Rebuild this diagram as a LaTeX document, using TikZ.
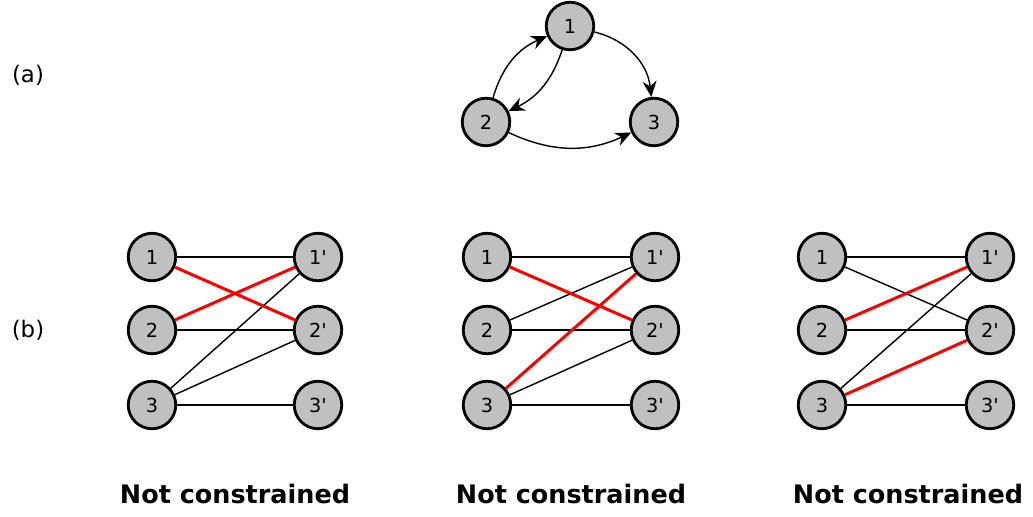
\documentclass[tikz,border=0pt]{standalone}
\usepackage{fontspec}
\setmainfont{DejaVu Sans}
\usetikzlibrary{arrows.meta}

\definecolor{vertexfill}{RGB}{192,192,192}

\tikzset{
  vertex/.style={circle, draw, line width=1.6pt, fill=vertexfill,
    minimum size=0.95cm, inner sep=0pt, font=\fontsize{11}{13}\selectfont},
  edge/.style={line width=0.8pt},
  matched/.style={red, line width=1.7pt},
  arc/.style={-{Stealth[length=9pt,width=8pt]}, line width=0.8pt},
  caption/.style={font=\fontsize{14.5}{17}\selectfont\bfseries},
  partlabel/.style={font=\fontsize{13}{15}\selectfont}
}

\begin{document}
\begin{tikzpicture}
  \useasboundingbox (0,0) rectangle (20.66,10.32);

  % Part labels
  \node[partlabel] (lbla) at (0.56,8.82) {(a)};
  \node[partlabel] (lblb) at (0.56,3.72) {(b)};

  % Directed graph
  \node[vertex] (a1) at (11.40,9.80) {1};
  \node[vertex] (a2) at (9.72,7.88) {2};
  \node[vertex] (a3) at (13.08,7.88) {3};

  \draw[arc] (a1) to[bend left=35] (a3);
  \draw[arc] (a2) to[bend right=25] (a3);
  \draw[arc] (a2) to[bend left=25] (a1);
  \draw[arc] (a1) to[bend left=23] (a2);

  % Bipartite graph, first matching
  \begin{scope}[shift={(3.04,0)}]
    \node[vertex] (p1) at (0,5.18) {1};
    \node[vertex] (p2) at (0,3.72) {2};
    \node[vertex] (p3) at (0,2.22) {3};
    \node[vertex] (p1p) at (3.32,5.18) {1\textquotesingle};
    \node[vertex] (p2p) at (3.32,3.72) {2\textquotesingle};
    \node[vertex] (p3p) at (3.32,2.22) {3\textquotesingle};

    \draw[edge] (p1) -- (p1p);
    \draw[edge] (p2) -- (p2p);
    \draw[edge] (p3) -- (p3p);
    \draw[edge] (p3) -- (p1p);
    \draw[edge] (p3) -- (p2p);
    \draw[matched] (p1) -- (p2p);
    \draw[matched] (p2) -- (p1p);

    \node[caption] (cap1) at (1.66,0.44) {Not constrained};
  \end{scope}

  % Second matching
  \begin{scope}[shift={(9.74,0)}]
    \node[vertex] (q1) at (0,5.18) {1};
    \node[vertex] (q2) at (0,3.72) {2};
    \node[vertex] (q3) at (0,2.22) {3};
    \node[vertex] (q1p) at (3.36,5.18) {1\textquotesingle};
    \node[vertex] (q2p) at (3.36,3.72) {2\textquotesingle};
    \node[vertex] (q3p) at (3.36,2.22) {3\textquotesingle};

    \draw[edge] (q1) -- (q1p);
    \draw[edge] (q2) -- (q2p);
    \draw[edge] (q3) -- (q3p);
    \draw[edge] (q2) -- (q1p);
    \draw[edge] (q3) -- (q2p);
    \draw[matched] (q1) -- (q2p);
    \draw[matched] (q3) -- (q1p);

    \node[caption] (cap2) at (1.68,0.44) {Not constrained};
  \end{scope}

  % Third matching
  \begin{scope}[shift={(16.44,0)}]
    \node[vertex] (r1) at (0,5.18) {1};
    \node[vertex] (r2) at (0,3.72) {2};
    \node[vertex] (r3) at (0,2.22) {3};
    \node[vertex] (r1p) at (3.36,5.18) {1\textquotesingle};
    \node[vertex] (r2p) at (3.36,3.72) {2\textquotesingle};
    \node[vertex] (r3p) at (3.36,2.22) {3\textquotesingle};

    \draw[edge] (r1) -- (r1p);
    \draw[edge] (r2) -- (r2p);
    \draw[edge] (r3) -- (r3p);
    \draw[edge] (r1) -- (r2p);
    \draw[edge] (r3) -- (r1p);
    \draw[matched] (r2) -- (r1p);
    \draw[matched] (r3) -- (r2p);

    \node[caption] (cap3) at (1.72,0.44) {Not constrained};
  \end{scope}
\end{tikzpicture}
\end{document}
